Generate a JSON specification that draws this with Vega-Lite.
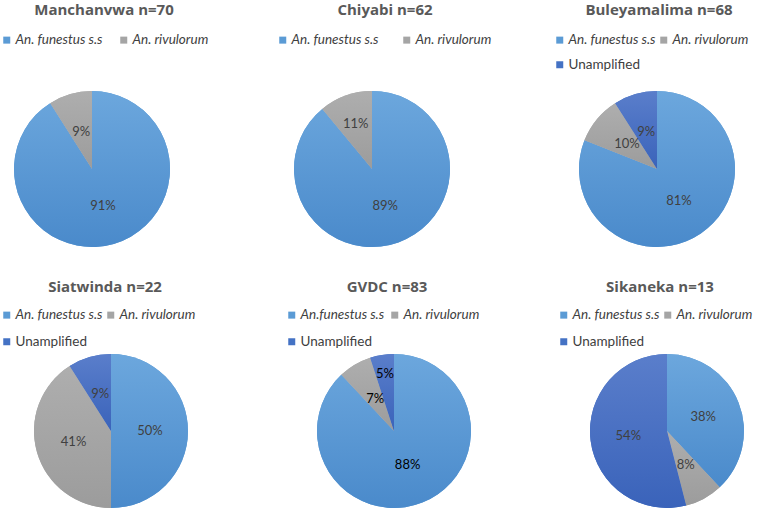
{
  "$schema": "https://vega.github.io/schema/vega-lite/v6.json",
  "background": "white",
  "padding": {"left": 0, "top": 3, "right": 0, "bottom": 0},
  "datasets": {
    "d": [
      {"site": "Manchanvwa", "species": "An. funestus s.s", "pct": 0.91, "ord": 1},
      {"site": "Manchanvwa", "species": "An. rivulorum", "pct": 0.09, "ord": 2},
      {"site": "Chiyabi", "species": "An. funestus s.s", "pct": 0.89, "ord": 1},
      {"site": "Chiyabi", "species": "An. rivulorum", "pct": 0.11, "ord": 2},
      {"site": "Buleyamalima", "species": "An. funestus s.s", "pct": 0.81, "ord": 1},
      {"site": "Buleyamalima", "species": "An. rivulorum", "pct": 0.10, "ord": 2},
      {"site": "Buleyamalima", "species": "Unamplified", "pct": 0.09, "ord": 3},
      {"site": "Siatwinda", "species": "An. funestus s.s", "pct": 0.50, "ord": 1},
      {"site": "Siatwinda", "species": "An. rivulorum", "pct": 0.41, "ord": 2},
      {"site": "Siatwinda", "species": "Unamplified", "pct": 0.09, "ord": 3},
      {"site": "GVDC", "species": "An.funestus s.s", "pct": 0.88, "ord": 1},
      {"site": "GVDC", "species": "An. rivulorum", "pct": 0.07, "ord": 2},
      {"site": "GVDC", "species": "Unamplified", "pct": 0.05, "ord": 3},
      {"site": "Sikaneka", "species": "An. funestus s.s", "pct": 0.38, "ord": 1},
      {"site": "Sikaneka", "species": "An. rivulorum", "pct": 0.08, "ord": 2},
      {"site": "Sikaneka", "species": "Unamplified", "pct": 0.54, "ord": 3}
    ]
  },
  "spacing": 33,
  "resolve": {"scale": {"color": "independent"}, "legend": {"color": "independent"}},
  "vconcat": [
    {
      "bounds": "flush",
      "spacing": 124,
      "resolve": {"scale": {"color": "independent"}, "legend": {"color": "independent"}},
      "hconcat": [
        {
          "width": 156, "height": 156,
          "title": {"text": "Manchanvwa n=70", "frame": "group", "dx": 12, "offset": 15},
          "data": {"name": "d"},
          "transform": [{"filter": "datum.site === 'Manchanvwa'"}],
          "encoding": {"theta": {"field": "pct", "type": "quantitative", "stack": true}, "order": {"field": "ord", "type": "quantitative"}},
          "layer": [
            {"mark": {"type": "arc"}, "encoding": {"color": {"field": "species", "type": "nominal",
              "scale": {"domain": ["An. funestus s.s", "An. rivulorum"], "range": ["#5B9BD5", "#A5A5A5"]},
              "legend": {"orient": "none", "legendX": -14, "legendY": -58, "direction": "horizontal", "columns": 2, "columnPadding": 14, "rowPadding": 10,
                "encode": {"labels": {"update": {"fontStyle": {"signal": "datum.label === 'Unamplified' ? 'normal' : 'italic'"}}}}}}}},
            {"mark": {"type": "arc"}, "encoding": {"fill": {"condition": [
              {"test": "datum.ord === 2", "value": {"gradient": "linear", "x1": 0, "y1": 0, "x2": 0, "y2": 1, "stops": [{"offset": 0, "color": "#AEAEAE"}, {"offset": 1, "color": "#9C9C9C"}]}},
              {"test": "datum.ord === 3", "value": {"gradient": "linear", "x1": 0, "y1": 0, "x2": 0, "y2": 1, "stops": [{"offset": 0, "color": "#5A7ECB"}, {"offset": 1, "color": "#3A63BA"}]}}],
              "value": {"gradient": "linear", "x1": 0, "y1": 0, "x2": 0, "y2": 1, "stops": [{"offset": 0, "color": "#6CA7DD"}, {"offset": 1, "color": "#4A8ACB"}]}}}},
            {"mark": {"type": "text", "radius": 39, "font": "Lato", "fontSize": 13, "fill": "#404040"}, "encoding": {"text": {"field": "pct", "type": "quantitative", "format": ".0%"}}}
          ]
        },
        {
          "width": 156, "height": 156,
          "title": {"text": "Chiyabi n=62", "frame": "group", "dx": 13, "offset": 15},
          "data": {"name": "d"},
          "transform": [{"filter": "datum.site === 'Chiyabi'"}],
          "encoding": {"theta": {"field": "pct", "type": "quantitative", "stack": true}, "order": {"field": "ord", "type": "quantitative"}},
          "layer": [
            {"mark": {"type": "arc"}, "encoding": {"color": {"field": "species", "type": "nominal",
              "scale": {"domain": ["An. funestus s.s", "An. rivulorum"], "range": ["#5B9BD5", "#A5A5A5"]},
              "legend": {"orient": "none", "legendX": -18, "legendY": -58, "direction": "horizontal", "columns": 2, "columnPadding": 21, "rowPadding": 10,
                "encode": {"labels": {"update": {"fontStyle": {"signal": "datum.label === 'Unamplified' ? 'normal' : 'italic'"}}}}}}}},
            {"mark": {"type": "arc"}, "encoding": {"fill": {"condition": [
              {"test": "datum.ord === 2", "value": {"gradient": "linear", "x1": 0, "y1": 0, "x2": 0, "y2": 1, "stops": [{"offset": 0, "color": "#AEAEAE"}, {"offset": 1, "color": "#9C9C9C"}]}},
              {"test": "datum.ord === 3", "value": {"gradient": "linear", "x1": 0, "y1": 0, "x2": 0, "y2": 1, "stops": [{"offset": 0, "color": "#5A7ECB"}, {"offset": 1, "color": "#3A63BA"}]}}],
              "value": {"gradient": "linear", "x1": 0, "y1": 0, "x2": 0, "y2": 1, "stops": [{"offset": 0, "color": "#6CA7DD"}, {"offset": 1, "color": "#4A8ACB"}]}}}},
            {"mark": {"type": "text", "radius": 39, "font": "Lato", "fontSize": 13, "fill": "#404040"}, "encoding": {"text": {"condition": {"test": "datum.pct < 0.5", "value": ""}, "field": "pct", "type": "quantitative", "format": ".0%"}}},
            {"mark": {"type": "text", "radius": 48, "font": "Lato", "fontSize": 13, "fill": "#404040"}, "encoding": {"text": {"condition": {"test": "datum.pct >= 0.5", "value": ""}, "field": "pct", "type": "quantitative", "format": ".0%"}}}
          ]
        },
        {
          "width": 166, "height": 156,
          "title": {"text": "Buleyamalima n=68", "frame": "group", "dx": 2, "offset": 15},
          "data": {"name": "d"},
          "transform": [{"filter": "datum.site === 'Buleyamalima'"}],
          "encoding": {"theta": {"field": "pct", "type": "quantitative", "stack": true}, "order": {"field": "ord", "type": "quantitative"}},
          "layer": [
            {"mark": {"type": "arc"}, "encoding": {"color": {"field": "species", "type": "nominal",
              "scale": {"domain": ["An. funestus s.s", "An. rivulorum", "Unamplified"], "range": ["#5B9BD5", "#A5A5A5", "#4472C4"]},
              "legend": {"orient": "none", "legendX": -21, "legendY": -58, "direction": "horizontal", "columns": 2, "columnPadding": 1, "rowPadding": 10,
                "encode": {"labels": {"update": {"fontStyle": {"signal": "datum.label === 'Unamplified' ? 'normal' : 'italic'"}}}}}}}},
            {"mark": {"type": "arc"}, "encoding": {"fill": {"condition": [
              {"test": "datum.ord === 2", "value": {"gradient": "linear", "x1": 0, "y1": 0, "x2": 0, "y2": 1, "stops": [{"offset": 0, "color": "#AEAEAE"}, {"offset": 1, "color": "#9C9C9C"}]}},
              {"test": "datum.ord === 3", "value": {"gradient": "linear", "x1": 0, "y1": 0, "x2": 0, "y2": 1, "stops": [{"offset": 0, "color": "#5A7ECB"}, {"offset": 1, "color": "#3A63BA"}]}}],
              "value": {"gradient": "linear", "x1": 0, "y1": 0, "x2": 0, "y2": 1, "stops": [{"offset": 0, "color": "#6CA7DD"}, {"offset": 1, "color": "#4A8ACB"}]}}}},
            {"mark": {"type": "text", "radius": 39, "font": "Lato", "fontSize": 13, "fill": "#404040"}, "encoding": {"text": {"field": "pct", "type": "quantitative", "format": ".0%"}}}
          ]
        }
      ]
    },
    {
      "bounds": "flush",
      "spacing": 108,
      "resolve": {"scale": {"color": "independent"}, "legend": {"color": "independent"}},
      "hconcat": [
        {
          "width": 194, "height": 154,
          "title": {"text": "Siatwinda n=22", "frame": "group", "dx": -6, "offset": 13},
          "data": {"name": "d"},
          "transform": [{"filter": "datum.site === 'Siatwinda'"}],
          "encoding": {"theta": {"field": "pct", "type": "quantitative", "stack": true}, "order": {"field": "ord", "type": "quantitative"}},
          "layer": [
            {"mark": {"type": "arc"}, "encoding": {"color": {"field": "species", "type": "nominal",
              "scale": {"domain": ["An. funestus s.s", "An. rivulorum", "Unamplified"], "range": ["#5B9BD5", "#A5A5A5", "#4472C4"]},
              "legend": {"orient": "none", "legendX": -14, "legendY": -46, "direction": "horizontal", "columns": 2, "columnPadding": 1, "rowPadding": 12,
                "encode": {"labels": {"update": {"fontStyle": {"signal": "datum.label === 'Unamplified' ? 'normal' : 'italic'"}}}}}}}},
            {"mark": {"type": "arc"}, "encoding": {"fill": {"condition": [
              {"test": "datum.ord === 2", "value": {"gradient": "linear", "x1": 0, "y1": 0, "x2": 0, "y2": 1, "stops": [{"offset": 0, "color": "#AEAEAE"}, {"offset": 1, "color": "#9C9C9C"}]}},
              {"test": "datum.ord === 3", "value": {"gradient": "linear", "x1": 0, "y1": 0, "x2": 0, "y2": 1, "stops": [{"offset": 0, "color": "#5A7ECB"}, {"offset": 1, "color": "#3A63BA"}]}}],
              "value": {"gradient": "linear", "x1": 0, "y1": 0, "x2": 0, "y2": 1, "stops": [{"offset": 0, "color": "#6CA7DD"}, {"offset": 1, "color": "#4A8ACB"}]}}}},
            {"mark": {"type": "text", "radius": 39, "font": "Lato", "fontSize": 13, "fill": "#404040"}, "encoding": {"text": {"field": "pct", "type": "quantitative", "format": ".0%"}}}
          ]
        },
        {
          "width": 156, "height": 154,
          "title": {"text": "GVDC n=83", "frame": "group", "dx": -7, "offset": 13},
          "data": {"name": "d"},
          "transform": [{"filter": "datum.site === 'GVDC'"}],
          "encoding": {"theta": {"field": "pct", "type": "quantitative", "stack": true}, "order": {"field": "ord", "type": "quantitative"}},
          "layer": [
            {"mark": {"type": "arc"}, "encoding": {"color": {"field": "species", "type": "nominal",
              "scale": {"domain": ["An.funestus s.s", "An. rivulorum", "Unamplified"], "range": ["#5B9BD5", "#A5A5A5", "#4472C4"]},
              "legend": {"orient": "none", "legendX": -31, "legendY": -46, "direction": "horizontal", "columns": 2, "columnPadding": 3, "rowPadding": 12,
                "encode": {"labels": {"update": {"fontStyle": {"signal": "datum.label === 'Unamplified' ? 'normal' : 'italic'"}}}}}}}},
            {"mark": {"type": "arc"}, "encoding": {"fill": {"condition": [
              {"test": "datum.ord === 2", "value": {"gradient": "linear", "x1": 0, "y1": 0, "x2": 0, "y2": 1, "stops": [{"offset": 0, "color": "#AEAEAE"}, {"offset": 1, "color": "#9C9C9C"}]}},
              {"test": "datum.ord === 3", "value": {"gradient": "linear", "x1": 0, "y1": 0, "x2": 0, "y2": 1, "stops": [{"offset": 0, "color": "#5A7ECB"}, {"offset": 1, "color": "#3A63BA"}]}}],
              "value": {"gradient": "linear", "x1": 0, "y1": 0, "x2": 0, "y2": 1, "stops": [{"offset": 0, "color": "#6CA7DD"}, {"offset": 1, "color": "#4A8ACB"}]}}}},
            {"mark": {"type": "text", "radius": 37, "font": "Lato", "fontSize": 13, "fill": "#000000"}, "encoding": {"text": {"condition": {"test": "datum.pct < 0.06", "value": ""}, "field": "pct", "type": "quantitative", "format": ".0%"}}},
            {"mark": {"type": "text", "radius": 58, "font": "Lato", "fontSize": 13, "fill": "#000000"}, "encoding": {"text": {"condition": {"test": "datum.pct >= 0.06", "value": ""}, "field": "pct", "type": "quantitative", "format": ".0%"}}}
          ]
        },
        {
          "width": 174, "height": 154,
          "title": {"text": "Sikaneka n=13", "frame": "group", "dx": -7, "offset": 13},
          "data": {"name": "d"},
          "transform": [{"filter": "datum.site === 'Sikaneka'"}],
          "encoding": {"theta": {"field": "pct", "type": "quantitative", "stack": true}, "order": {"field": "ord", "type": "quantitative"}},
          "layer": [
            {"mark": {"type": "arc"}, "encoding": {"color": {"field": "species", "type": "nominal",
              "scale": {"domain": ["An. funestus s.s", "An. rivulorum", "Unamplified"], "range": ["#5B9BD5", "#A5A5A5", "#4472C4"]},
              "legend": {"orient": "none", "legendX": -23, "legendY": -46, "direction": "horizontal", "columns": 2, "columnPadding": 1, "rowPadding": 12,
                "encode": {"labels": {"update": {"fontStyle": {"signal": "datum.label === 'Unamplified' ? 'normal' : 'italic'"}}}}}}}},
            {"mark": {"type": "arc"}, "encoding": {"fill": {"condition": [
              {"test": "datum.ord === 2", "value": {"gradient": "linear", "x1": 0, "y1": 0, "x2": 0, "y2": 1, "stops": [{"offset": 0, "color": "#AEAEAE"}, {"offset": 1, "color": "#9C9C9C"}]}},
              {"test": "datum.ord === 3", "value": {"gradient": "linear", "x1": 0, "y1": 0, "x2": 0, "y2": 1, "stops": [{"offset": 0, "color": "#5A7ECB"}, {"offset": 1, "color": "#3A63BA"}]}}],
              "value": {"gradient": "linear", "x1": 0, "y1": 0, "x2": 0, "y2": 1, "stops": [{"offset": 0, "color": "#6CA7DD"}, {"offset": 1, "color": "#4A8ACB"}]}}}},
            {"mark": {"type": "text", "radius": 39, "font": "Lato", "fontSize": 13, "fill": "#404040"}, "encoding": {"text": {"field": "pct", "type": "quantitative", "format": ".0%"}}}
          ]
        }
      ]
    }
  ],
  "config": {
    "view": {"stroke": null},
    "title": {"font": "Open Sans", "fontSize": 15, "fontWeight": "bold", "color": "#595959", "anchor": "middle"},
    "legend": {"title": null, "symbolType": "square", "symbolSize": 49, "symbolStrokeWidth": 0, "labelFont": "Lato", "labelFontSize": 13.5, "labelColor": "#404040", "labelOffset": 2, "labelLimit": 200}
  }
}
